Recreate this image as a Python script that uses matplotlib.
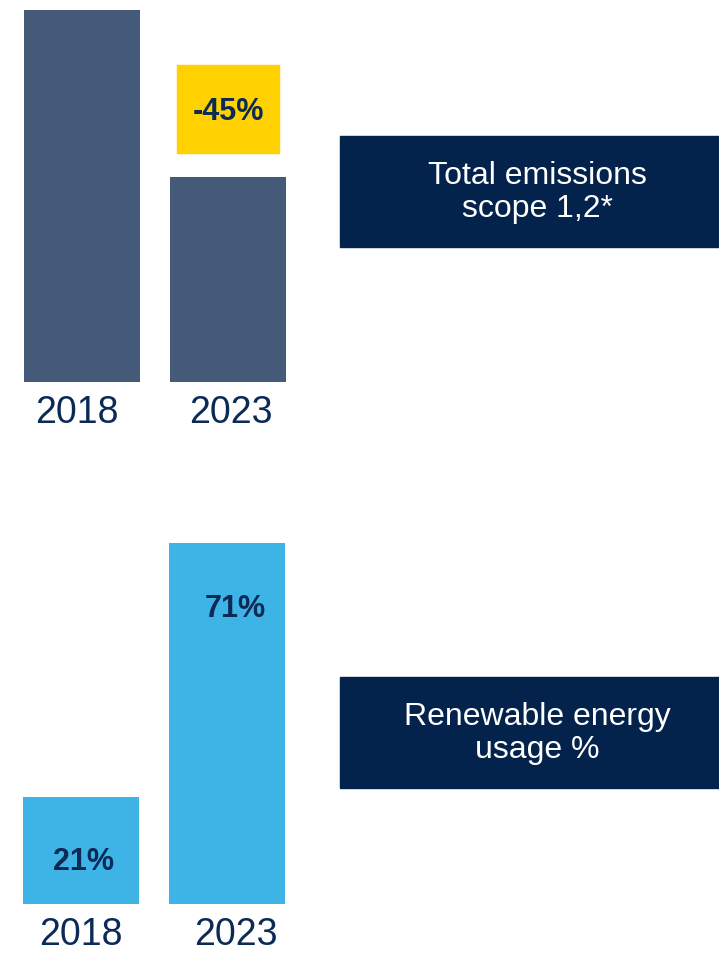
import matplotlib
matplotlib.use("Agg")
import matplotlib.pyplot as plt
from matplotlib.patches import Rectangle

plt.rcParams["font.family"] = ["Liberation Sans", "DejaVu Sans"]

# Data
years = ["2018", "2023"]
emissions_index = [100, 55]          # scope 1,2 emissions, 2018 = 100
emissions_change = "-45%"
renewable_share = [21, 71]           # renewable energy usage, %
panel_titles = ["Total emissions\nscope 1,2*", "Renewable energy\nusage %"]

W, H = 719, 955
NAVY = "#03224C"
SLATE = "#455A78"
SKY = "#3DB4E5"
GOLD = "#FFD100"
TEXT = "#0B2A55"

fig = plt.figure(figsize=(W / 100, H / 100), dpi=100)


def px_axes(x0, y0, x1, y1):
    """Axes placed with pixel edges measured from the top-left corner."""
    return fig.add_axes([x0 / W, 1 - y1 / H, (x1 - x0) / W, (y1 - y0) / H])


xpos = [0, 1]
bar_w = 0.795

# --- Emissions panel ---
ax1 = px_axes(0, 0, 340, 382)
ax1.bar(xpos, emissions_index, width=bar_w, color=SLATE)
ax1.set_xlim(-82 / 146, (340 - 82) / 146)
ax1.set_ylim(0, 382 / 3.72)
ax1.add_patch(Rectangle((1 - 0.35, 61.5), 0.70, 23.7, color=GOLD, zorder=3))
ax1.text(1, 72.6, emissions_change, ha="center", va="center", fontsize=22,
         fontweight="bold", color=TEXT, zorder=4)
ax1.set_xticks([-0.034, 1.021], years)
ax1.tick_params(axis="x", length=0, pad=9, labelsize=27, labelcolor=TEXT)
ax1.set_yticks([])
for s in ax1.spines.values():
    s.set_visible(False)

# --- Renewable energy panel ---
ax2 = px_axes(0, 450, 340, 904)
ax2.bar(xpos, renewable_share, width=bar_w, color=SKY)
ax2.set_xlim(-81 / 146, (340 - 81) / 146)
ax2.set_ylim(0, 454 / 5.085)
ax2.text(0.02, renewable_share[0] - 12.8, f"{renewable_share[0]}%", ha="center",
         va="center", fontsize=22, fontweight="bold", color=TEXT)
ax2.text(1.06, renewable_share[1] - 13.0, f"{renewable_share[1]}%", ha="center",
         va="center", fontsize=22, fontweight="bold", color=TEXT)
ax2.set_xticks([0, 1.062], years)
ax2.tick_params(axis="x", length=0, pad=9, labelsize=27, labelcolor=TEXT)
ax2.set_yticks([])
for s in ax2.spines.values():
    s.set_visible(False)

# --- Title boxes ---
for (y0, y1), title in zip([(136, 247), (677, 788)], panel_titles):
    fig.patches.append(Rectangle((340 / W, 1 - y1 / H), (W - 340) / W, (y1 - y0) / H,
                                 transform=fig.transFigure, color=NAVY, zorder=1))
    fig.text(537 / W, 1 - (y0 + y1) / 2 / H - 1 / H, title, ha="center", va="center",
             fontsize=23, color="white", linespacing=1.15, zorder=2)

fig.savefig("out.png", dpi=100, facecolor="white")
